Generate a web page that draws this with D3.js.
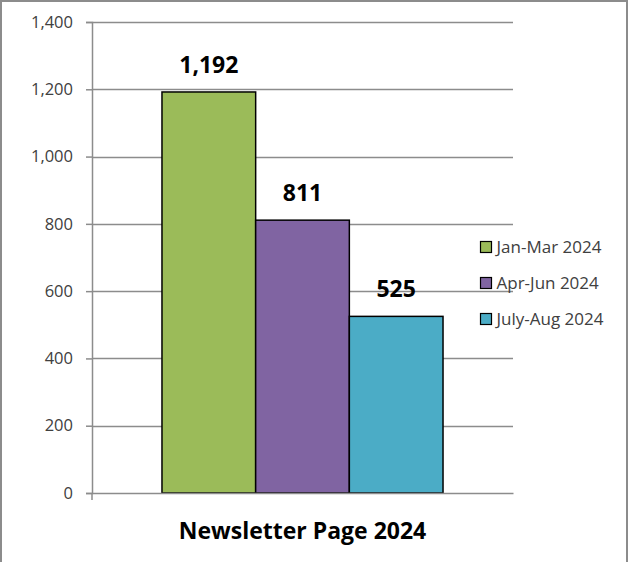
<!DOCTYPE html>
<html>
<head>
<meta charset="utf-8">
<script src="https://cdn.jsdelivr.net/npm/d3@7"></script>
<style>
  body { margin: 0; background: #fff; }
  svg { display: block; font-family: "Open Sans", "Noto Sans", sans-serif; }
</style>
</head>
<body>
<svg width="629" height="562"></svg>
<script>
// chart data
const series = ["Jan-Mar 2024", "Apr-Jun 2024", "July-Aug 2024"];
const values = [1192, 811, 525];
const colors = ["#9BBB59", "#8064A2", "#4BACC6"];
const yTicks = [0, 200, 400, 600, 800, 1000, 1200, 1400];
const category = "Newsletter Page 2024";

let svg = d3.select("svg");

// outer frame
svg.append("rect")
  .attr("x", 1).attr("y", 1)
  .attr("width", 626).attr("height", 570)
  .attr("fill", "none")
  .attr("stroke", "#8c8c8c")
  .attr("stroke-width", 2);

let margin = {top: 22, left: 92}, width = 421, height = 471;
let g = svg.append("g").attr("transform", "translate(" + margin.left + "," + margin.top + ")");

let y = d3.scaleLinear().domain([0, 1400]).range([height, 0]);
let x0 = d3.scaleBand().domain([category]).range([0, width]).paddingInner(0).paddingOuter(0.249);
let x1 = d3.scaleBand().domain(series).range([0, x0.bandwidth()]);

// gridlines
g.append("g")
  .selectAll("line")
  .data(yTicks.filter(t => t > 0))
  .enter().append("line")
  .attr("x1", 0).attr("x2", width)
  .attr("y1", d => Math.round(y(d)) + 0.5)
  .attr("y2", d => Math.round(y(d)) + 0.5)
  .attr("stroke", "#8c8c8c")
  .attr("stroke-width", 1.5);

// bars
let bars = g.append("g").attr("transform", "translate(" + x0(category) + ",0)");
bars.selectAll("rect")
  .data(values)
  .enter().append("rect")
  .attr("x", (d, i) => x1(series[i]))
  .attr("y", d => y(d))
  .attr("width", x1.bandwidth())
  .attr("height", d => height - y(d))
  .attr("fill", (d, i) => colors[i])
  .attr("stroke", "#000")
  .attr("stroke-width", 1.5);

// value labels
bars.selectAll("text")
  .data(values)
  .enter().append("text")
  .attr("x", (d, i) => x1(series[i]) + x1.bandwidth() / 2)
  .attr("y", d => y(d) - 19)
  .attr("text-anchor", "middle")
  .attr("font-size", 23)
  .attr("font-weight", "bold")
  .attr("fill", "#000")
  .text(d => d3.format(",")(d));

// y axis
let yAxis = g.append("g")
  .call(d3.axisLeft(y).tickValues(yTicks).tickFormat(d3.format(",")).tickSize(6).tickPadding(13));
yAxis.select(".domain").attr("stroke", "#8c8c8c").attr("stroke-width", 1.5);
yAxis.selectAll(".tick line").attr("stroke", "#8c8c8c").attr("stroke-width", 1.5);
yAxis.selectAll(".tick text").attr("font-size", 16.5).attr("fill", "#404040").attr("font-family", "Open Sans, sans-serif");

// x axis
let xAxis = g.append("g")
  .attr("transform", "translate(0," + height + ")")
  .call(d3.axisBottom(x0).tickSize(0).tickFormat(""));
xAxis.select(".domain").attr("stroke", "#8c8c8c").attr("stroke-width", 1.5);
g.append("line")
  .attr("x1", 0).attr("x2", 0).attr("y1", height).attr("y2", height + 7)
  .attr("stroke", "#8c8c8c").attr("stroke-width", 1.5);

g.append("text")
  .attr("x", x0(category) + x0.bandwidth() / 2)
  .attr("y", height + 46)
  .attr("text-anchor", "middle")
  .attr("font-size", 23)
  .attr("font-weight", "bold")
  .attr("fill", "#000")
  .text(category);

// legend
let legend = svg.append("g")
  .attr("transform", "translate(480.5,241.5)")
  .selectAll("g")
  .data(series)
  .enter().append("g")
  .attr("transform", (d, i) => "translate(0," + i * 36 + ")");

legend.append("rect")
  .attr("width", 11).attr("height", 11)
  .attr("fill", (d, i) => colors[i])
  .attr("stroke", "#000")
  .attr("stroke-width", 1.2);

legend.append("text")
  .attr("x", 16)
  .attr("y", 11.5)
  .attr("font-size", 17)
  .attr("fill", "#404040")
  .text(d => d);
</script>
</body>
</html>
